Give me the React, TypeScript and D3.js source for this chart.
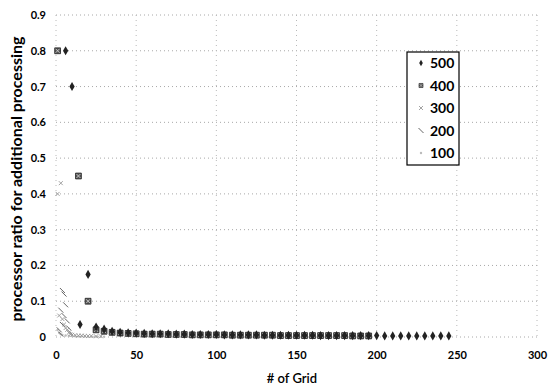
import React, { useEffect, useRef } from 'react';
import * as d3 from 'd3';

// # of Grid (x) and processor ratio (y) per series
const grid500 = [6, 10, 15, 20, 25, 30, 35, 40, 45, 50, 55, 60, 65, 70, 75, 80, 85, 90, 95, 100, 105, 110, 115, 120, 125, 130, 135, 140, 145, 150, 155, 160, 165, 170, 175, 180, 185, 190, 195, 200, 205, 210, 215, 220, 225, 230, 235, 240, 245];
const ratio500 = [0.80, 0.70, 0.035, 0.175, 0.028, 0.022, 0.016, 0.013, 0.012, 0.011, 0.010, 0.009, 0.009, 0.009, 0.008, 0.008, 0.007, 0.007, 0.007, 0.007, 0.006, 0.006, 0.006, 0.006, 0.006, 0.005, 0.005, 0.005, 0.005, 0.005, 0.005, 0.005, 0.004, 0.004, 0.004, 0.004, 0.004, 0.004, 0.004, 0.004, 0.003, 0.003, 0.003, 0.003, 0.003, 0.003, 0.003, 0.003, 0.003];

const grid400 = [1, 14, 20, 25, 30, 35, 40, 45, 50, 55, 60, 65, 70, 75, 80, 85, 90, 95, 100, 105, 110, 115, 120, 125, 130, 135, 140, 145, 150, 155, 160, 165, 170, 175, 180, 185, 190, 195];
const ratio400 = [0.80, 0.45, 0.10, 0.020, 0.016, 0.013, 0.011, 0.010, 0.009, 0.008, 0.008, 0.008, 0.007, 0.007, 0.007, 0.006, 0.006, 0.006, 0.006, 0.006, 0.005, 0.005, 0.005, 0.005, 0.005, 0.005, 0.004, 0.004, 0.004, 0.004, 0.004, 0.004, 0.004, 0.004, 0.004, 0.003, 0.003, 0.003];

const grid300 = [1, 3, 2, 4, 5, 6, 7, 8, 9, 10, 12, 14, 16, 18, 20, 22, 25, 28];
const ratio300 = [0.40, 0.43, 0.06, 0.05, 0.035, 0.025, 0.02, 0.012, 0.008, 0.006, 0.005, 0.004, 0.004, 0.003, 0.003, 0.003, 0.002, 0.002];

const grid200 = [4, 5, 6, 3, 5, 7, 4, 8, 2, 9, 3];
const ratio200 = [0.13, 0.12, 0.09, 0.075, 0.06, 0.045, 0.035, 0.025, 0.02, 0.012, 0.008];

const grid100 = [1, 2, 3, 4, 6, 8, 10, 12, 14, 16, 18, 20, 22, 24, 26, 28, 30];
const ratio100 = [0.02, 0.012, 0.008, 0.006, 0.004, 0.003, 0.003, 0.002, 0.002, 0.002, 0.002, 0.001, 0.001, 0.001, 0.001, 0.001, 0.001];

const seriesNames = ['500', '400', '300', '200', '100'];
const yTicks = [0, 0.1, 0.2, 0.3, 0.4, 0.5, 0.6, 0.7, 0.8, 0.9];
const xTicks = [0, 50, 100, 150, 200, 250, 300];

const App = () => {
    const svgRef = useRef<SVGSVGElement>(null);
    const width = 553;
    const height = 387;

    useEffect(() => {
        const svg = d3.select(svgRef.current);
        svg.selectAll("*").remove();

        const margin = { top: 15, right: 16, bottom: 50, left: 56 };
        const innerWidth = width - margin.left - margin.right;
        const innerHeight = height - margin.top - margin.bottom;
        const font = "Lato, 'Open Sans', sans-serif";

        const g = svg.append("g")
            .attr("transform", `translate(${margin.left},${margin.top})`);

        const xScale = d3.scaleLinear().domain([0, 300]).range([0, innerWidth]);
        const yScale = d3.scaleLinear().domain([0, 0.9]).range([innerHeight, 0]);

        // dotted gridlines
        g.selectAll(".hgrid")
            .data(yTicks)
            .enter()
            .append("line")
            .attr("x1", 0)
            .attr("x2", innerWidth)
            .attr("y1", d => yScale(d))
            .attr("y2", d => yScale(d))
            .attr("stroke", "#a8a8a8")
            .attr("stroke-dasharray", "1,3");

        g.selectAll(".vgrid")
            .data(xTicks)
            .enter()
            .append("line")
            .attr("x1", d => xScale(d))
            .attr("x2", d => xScale(d))
            .attr("y1", 0)
            .attr("y2", innerHeight)
            .attr("stroke", "#b8b8b8")
            .attr("stroke-dasharray", "1,4");

        // axes
        const yAxis = g.append("g").call(d3.axisLeft(yScale).tickValues(yTicks).tickSize(0).tickPadding(10).tickFormat(d => d === 0 ? "0" : d3.format(".1f")(d as number)));
        const xAxis = g.append("g")
            .attr("transform", `translate(0,${innerHeight})`)
            .call(d3.axisBottom(xScale).tickValues(xTicks).tickSize(0).tickPadding(14));
        [yAxis, xAxis].forEach(a => {
            a.select(".domain").remove();
            a.selectAll("text")
                .style("font-family", font)
                .style("font-size", "11px")
                .style("font-weight", "bold")
                .attr("fill", "#000");
        });

        const diamond = d3.symbol().type(d3.symbolDiamond).size(24);
        const square = d3.symbol().type(d3.symbolSquare).size(34);
        const cross = d3.symbol().type(d3.symbolX).size(12);

        const drawMarker = (sel, name, small = false) => {
            const k = small ? 0.7 : 1;
            if (name === '500') {
                sel.append("path").attr("d", diamond).attr("fill", "#222").attr("transform", `scale(${k})`);
            } else if (name === '400') {
                sel.append("path").attr("d", square).attr("fill", "#555").attr("stroke", "#222").attr("stroke-width", 0.8).attr("transform", `scale(${k})`);
                sel.append("path").attr("d", cross).attr("stroke", "#ddd").attr("stroke-width", 0.8).attr("fill", "none").attr("transform", `scale(${k})`);
            } else if (name === '300') {
                sel.append("path").attr("d", cross).attr("stroke", "#999").attr("stroke-width", 0.9).attr("fill", "none");
            } else if (name === '200') {
                sel.append("line").attr("x1", -2.5).attr("y1", -2.5).attr("x2", 2.5).attr("y2", 2.5)
                    .attr("stroke", "#666").attr("stroke-width", 1);
            } else {
                sel.append("circle").attr("r", 1.2).attr("fill", "#bbb");
            }
        };

        const series = [
            { name: '100', xs: grid100, ys: ratio100 },
            { name: '200', xs: grid200, ys: ratio200 },
            { name: '300', xs: grid300, ys: ratio300 },
            { name: '400', xs: grid400, ys: ratio400 },
            { name: '500', xs: grid500, ys: ratio500 },
        ];

        series.forEach(s => {
            s.xs.forEach((xv, i) => {
                const m = g.append("g")
                    .attr("transform", `translate(${xScale(xv)},${yScale(s.ys[i])})`);
                drawMarker(m, s.name);
            });
        });

        // legend
        const legend = svg.append("g").attr("transform", "translate(407,52)");
        legend.append("rect")
            .attr("width", 52)
            .attr("height", 113)
            .attr("fill", "#fff")
            .attr("stroke", "#000")
            .attr("stroke-width", 1.2);
        seriesNames.forEach((name, i) => {
            const row = legend.append("g").attr("transform", `translate(14,${11 + i * 22.5})`);
            drawMarker(row, name, true);
            row.append("text")
                .attr("x", 9)
                .attr("dy", "0.36em")
                .style("font-family", font)
                .style("font-size", "14px")
                .style("font-weight", "bold")
                .text(name);
        });

        // axis titles
        svg.append("text")
            .attr("x", 292)
            .attr("y", 383)
            .attr("text-anchor", "middle")
            .style("font-family", font)
            .style("font-size", "13px")
            .style("font-weight", "600")
            .text("# of Grid");

        svg.append("text")
            .attr("transform", "translate(22,179) rotate(-90)")
            .attr("text-anchor", "middle")
            .style("font-family", font)
            .style("font-size", "16px")
            .style("font-weight", "bold")
            .text("processor ratio for additional processing");
    }, []);

    return (
        <svg ref={svgRef} width={width} height={height}
            style={{ position: 'absolute', left: 0, top: 0, background: '#fff' }}></svg>
    );
};

export default App;
